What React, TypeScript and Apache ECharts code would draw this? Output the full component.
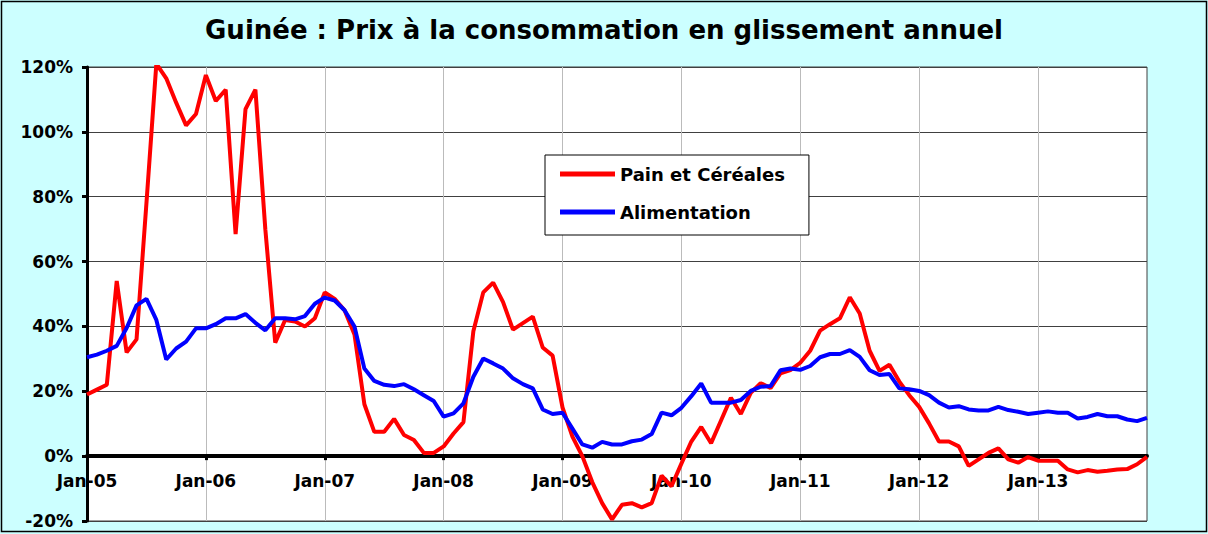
import React, { useEffect, useRef } from "react";
import * as echarts from "echarts";

const TITLE = "Guinée : Prix à la consommation en glissement annuel";
const SERIES_NAMES = ["Pain et Céréales", "Alimentation"];
const MONTHS = ["Jan", "Feb", "Mar", "Apr", "May", "Jun", "Jul", "Aug", "Sep", "Oct", "Nov", "Dec"];
const YEARS = ["05", "06", "07", "08", "09", "10", "11", "12", "13"];
const CATEGORIES: string[] = [];
YEARS.forEach((y) => MONTHS.forEach((m) => CATEGORIES.push(`${m}-${y}`)));

// Pain et Céréales (% y/y), Jan-05 .. Dec-13
const PAIN = [
  19, 20.5, 22, 54, 32, 36, 78, 121, 116.5, 109, 102, 105.5,
  117.5, 109.5, 113, 68.5, 107, 113, 70, 35, 42, 41.5, 40, 42.5,
  50.5, 48.5, 45, 37.5, 16, 7.5, 7.5, 11.5, 6.5, 5, 1, 1,
  3, 7, 10.5, 38.5, 50.5, 53.5, 47.5, 39, 41, 43, 33.5, 31,
  15, 6, 0, -8, -14.5, -19.5, -15, -14.5, -15.8, -14.5, -6, -9.3,
  -2.3, 4.5, 9, 4, 11, 18, 13, 19.5, 22.5, 21, 25.5, 26.5,
  28.8, 32.5, 38.7, 40.7, 42.5, 49, 44, 32.5, 26.3, 28.2, 23, 18.8,
  15.2, 10.1, 4.5, 4.5, 3, -3, -1, 1, 2.4, -1, -2, -0.3,
  -1.4, -1.4, -1.4, -4.1, -5, -4.3, -4.8, -4.5, -4.1, -4, -2.5, -0.2,
];

// Alimentation (% y/y), Jan-05 .. Dec-13
const ALIM = [
  30.5, 31.3, 32.5, 34, 39.5, 46.5, 48.5, 42, 29.8, 33.2, 35.3, 39.4,
  39.4, 40.7, 42.5, 42.5, 43.8, 41.1, 38.8, 42.5, 42.5, 42.2, 43.2, 47,
  48.9, 48, 45, 40, 27, 23.2, 22, 21.6, 22.2, 20.6, 18.8, 17,
  12.2, 13.2, 16.3, 24.5, 30.1, 28.6, 27, 24, 22.2, 20.9, 14.4, 13,
  13.4, 8.5, 3.6, 2.6, 4.4, 3.6, 3.6, 4.6, 5.1, 6.8, 13.4, 12.6,
  14.9, 18.5, 22.4, 16.5, 16.5, 16.5, 17.3, 20.1, 21.4, 21.6, 26.5, 27,
  26.6, 27.8, 30.5, 31.5, 31.5, 32.7, 30.6, 26.5, 25, 25.3, 20.9, 20.6,
  20.1, 18.8, 16.5, 15, 15.4, 14.4, 14.1, 14.1, 15.2, 14.2, 13.7, 13,
  13.4, 13.8, 13.4, 13.4, 11.6, 12.1, 13, 12.3, 12.3, 11.3, 10.8, 11.8,
];

const Y_MIN = -20;
const Y_MAX = 120;
const Y_STEP = 20;

const FONT = "'DejaVu Sans', 'Liberation Sans', Arial, sans-serif";
const isJan = (i: number) => i % 12 === 0;

export default function App() {
  const ref = useRef<HTMLDivElement>(null);
  useEffect(() => {
    if (!ref.current) return;
    const chart = echarts.init(ref.current, undefined, { renderer: "svg" });
    const labelStyle = { fontFamily: FONT, fontWeight: "bold" as const, fontSize: 17, color: "#000" };
    const gridTop = 67;
    const gridBottom = 13;
    const gridHeight = 534 - gridTop - gridBottom;
    // distance from grid bottom to the zero line, through the axis scale
    const zeroOffset = (gridHeight * (0 - Y_MIN)) / (Y_MAX - Y_MIN);
    chart.setOption({
      animation: false,
      backgroundColor: "#CCFFFF",
      title: {
        text: TITLE,
        left: "center",
        top: 12,
        textStyle: { fontFamily: FONT, fontWeight: "bold", fontSize: 26, color: "#000" },
      },
      graphic: [
        {
          type: "rect",
          shape: { x: 1.5, y: 1.5, width: 1205, height: 530 },
          style: { fill: "none", stroke: "#000", lineWidth: 1.5 },
          silent: true,
          z: 100,
        },
      ],
      legend: {
        orient: "vertical",
        left: 545,
        top: 155,
        icon: "rect",
        itemWidth: 55,
        itemHeight: 5,
        itemGap: 20,
        backgroundColor: "#fff",
        borderColor: "#000",
        borderWidth: 1,
        padding: [10, 24, 14, 15],
        textStyle: { ...labelStyle, fontSize: 18 },
        data: SERIES_NAMES,
      },
      grid: {
        left: 87,
        right: 61,
        top: gridTop,
        bottom: gridBottom,
        show: true,
        backgroundColor: "#fff",
        borderColor: "#404040",
        borderWidth: 1,
        containLabel: false,
        outerBoundsMode: "none",
      },
      xAxis: {
        type: "category",
        data: CATEGORIES,
        boundaryGap: false,
        offset: -zeroOffset,
        axisLine: { onZero: false, lineStyle: { color: "#000", width: 4 } },
        axisTick: { show: true, interval: (i: number) => isJan(i), length: 4, lineStyle: { color: "#000", width: 3 } },
        axisLabel: {
          interval: (i: number) => isJan(i),
          margin: 16,
          ...labelStyle,
        },
        splitLine: { show: true, interval: (i: number) => isJan(i), lineStyle: { color: "#BBBBBB", width: 1 } },
      },
      yAxis: {
        type: "value",
        min: Y_MIN,
        max: Y_MAX,
        interval: Y_STEP,
        axisLine: { show: true, onZero: false, lineStyle: { color: "#000", width: 3 } },
        axisTick: { show: true, length: 5, lineStyle: { color: "#000", width: 3 } },
        axisLabel: { formatter: "{value}%", margin: 14, ...labelStyle },
        splitLine: { show: true, lineStyle: { color: "#404040", width: 1 } },
      },
      series: [
        {
          name: SERIES_NAMES[0],
          type: "line",
          data: PAIN,
          showSymbol: false,
          symbol: "none",
          clip: true,
          lineStyle: { color: "#FF0000", width: 4 },
          itemStyle: { color: "#FF0000" },
        },
        {
          name: SERIES_NAMES[1],
          type: "line",
          data: ALIM,
          showSymbol: false,
          symbol: "none",
          clip: true,
          lineStyle: { color: "#0000FF", width: 4 },
          itemStyle: { color: "#0000FF" },
        },
      ],
    });
    return () => chart.dispose();
  }, []);
  return (
    <div
      ref={ref}
      style={{ position: "absolute", left: 0, top: 0, width: 1208, height: 534 }}
    />
  );
}
